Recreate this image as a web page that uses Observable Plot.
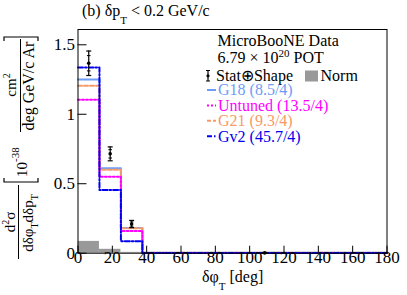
<!DOCTYPE html>
<html><head><meta charset="utf-8">
<script src="https://cdn.jsdelivr.net/npm/d3@7"></script>
<script src="https://cdn.jsdelivr.net/npm/@observablehq/plot@0.6"></script>
<style>body{margin:0;background:#fff}#c{width:407px;height:295px}</style>
</head><body><div id="c"></div>
<script>
// ---- data ----
const binEdges = [0, 12.5, 25, 37.5, 180];
const dataVals = [1.367, 0.715, 0.21, 0.002];
const dataErr = [0.088, 0.05, 0.026, 0.003];
const dataStatErr = [0.055, 0.03, 0.015, 0.002];
const normVals = [0.085, 0.028, 0.006, 0.0];
const g18Vals = [1.25, 0.612, 0.182, 0.003];
const untunedVals = [1.105, 0.55, 0.16, 0.002];
const g21Vals = [1.205, 0.60, 0.18, 0.003];
const gv2Vals = [1.336, 0.455, 0.086, 0.002];
const xTicks = [0, 20, 40, 60, 80, 100, 120, 140, 160, 180];
const yTicks = [0, 0.5, 1, 1.5];
const models = [
  {name: "G18 (8.5/4)", vals: g18Vals, color: "#6f9cf6", dash: null},
  {name: "G21 (9.3/4)", vals: g21Vals, color: "#f79a68", dash: "4,2"},
  {name: "Untuned (13.5/4)", vals: untunedVals, color: "#ff00ff", dash: "2,2"},
  {name: "Gv2 (45.7/4)", vals: gv2Vals, color: "#0000ee", dash: "5,2,1.5,2"}
];
const legendOrder = ["G18 (8.5/4)", "Untuned (13.5/4)", "G21 (9.3/4)", "Gv2 (45.7/4)"];

// ---- derived tables ----
const bins = dataVals.map((v, i) => ({
  x1: binEdges[i], x2: binEdges[i + 1], xc: (binEdges[i] + binEdges[i + 1]) / 2,
  v, lo: v - dataErr[i], hi: v + dataErr[i],
  slo: v - dataStatErr[i], shi: v + dataStatErr[i], norm: normVals[i]
}));
const stepRows = vals => binEdges.map((e, i) => ({x: e, y: vals[Math.min(i, vals.length - 1)]}));
const cap = {draw(ctx, size) { const r = Math.sqrt(size / Math.PI); ctx.moveTo(-r, 0); ctx.lineTo(r, 0); }};

const W = 407, H = 295, mL = 77.5, mR = 20.5, mT = 29, mB = 42.3;
const pw = W - mL - mR, ph = H - mT - mB;
const font = "Liberation Serif";

const chart = Plot.plot({
  width: W, height: H, marginLeft: mL, marginRight: mR, marginTop: mT, marginBottom: mB,
  style: {fontFamily: font, fontSize: "15px", color: "black", background: "white"},
  x: {domain: [0, 180], axis: null},
  y: {domain: [0, 1.61], axis: null},
  marks: [
    Plot.rectY(bins, {x1: "x1", x2: "x2", y: "norm", fill: "#999999"}),
    ...models.map(m => Plot.line(stepRows(m.vals), {x: "x", y: "y", curve: "step-after",
      stroke: m.color, strokeWidth: 2, strokeDasharray: m.dash})),
    Plot.ruleX(bins, {x: "xc", y1: "lo", y2: "hi", stroke: "black", strokeWidth: 1.2}),
    Plot.dot(bins, {x: "xc", y: "lo", symbol: cap, r: 2.5, stroke: "black", strokeWidth: 1.2}),
    Plot.dot(bins, {x: "xc", y: "hi", symbol: cap, r: 2.5, stroke: "black", strokeWidth: 1.2}),
    Plot.dot(bins, {x: "xc", y: "slo", symbol: cap, r: 1.8, stroke: "black", strokeWidth: 1}),
    Plot.dot(bins, {x: "xc", y: "shi", symbol: cap, r: 1.8, stroke: "black", strokeWidth: 1}),
    Plot.dot(bins, {x: "xc", y: "v", r: 1.8, fill: "black"}),
    Plot.tickX(xTicks, {x: d => d, insetTop: ph - 7, stroke: "black"}),
    Plot.tickY(yTicks, {y: d => d, insetRight: pw - 9, stroke: "black"}),
    Plot.text(xTicks, {x: d => d, frameAnchor: "bottom", dy: 10, text: d => String(d),
      fontSize: 17, fontFamily: font, fill: "black"}),
    Plot.text(yTicks, {y: d => d, frameAnchor: "left", dx: -3, textAnchor: "end", text: d => String(d),
      fontSize: 17, fontFamily: font, fill: "black"}),
    Plot.frame({stroke: "black", strokeWidth: 1})
  ]
});
document.getElementById("c").appendChild(chart);

const svg = d3.select(chart);

// title
const t = svg.append("text").attr("x", 82).attr("y", 16).attr("text-anchor", "start")
  .attr("font-size", 16).attr("fill", "black");
t.append("tspan").text("(b) δp");
t.append("tspan").attr("font-size", 11).attr("dy", 8).text("T");
t.append("tspan").attr("dy", -8).text(" < 0.2 GeV/c");

// x label
const xl = svg.append("text").attr("x", 202).attr("y", 281.5).attr("text-anchor", "start")
  .attr("font-size", 16).attr("fill", "black");
xl.append("tspan").text("δφ");
xl.append("tspan").attr("font-size", 11).attr("dy", 8).text("T");
xl.append("tspan").attr("dy", -8).text(" [deg]");

// y label (rotated)
const yl = svg.append("g").attr("transform", `translate(0,${H}) rotate(-90)`)
  .attr("font-size", 15).attr("fill", "black");
const n1 = yl.append("text").attr("x", 73).attr("y", 15).attr("text-anchor", "middle");
n1.append("tspan").text("d");
n1.append("tspan").attr("font-size", 10).attr("dy", -6).text("2");
n1.append("tspan").attr("dy", 6).text("σ");
yl.append("line").attr("x1", 36).attr("x2", 110).attr("y1", 18.5).attr("y2", 18.5).attr("stroke", "black");
const d1 = yl.append("text").attr("x", 72).attr("y", 32.5).attr("text-anchor", "middle");
d1.append("tspan").text("dδφ");
d1.append("tspan").attr("font-size", 10).attr("dy", 5).text("T");
d1.append("tspan").attr("dy", -5).text("dδp");
d1.append("tspan").attr("font-size", 10).attr("dy", 5).text("T");
yl.append("path").attr("d", "M117,4H113V38H117").attr("fill", "none").attr("stroke", "black").attr("stroke-width", 1.2);
const p10 = yl.append("text").attr("x", 118).attr("y", 27).attr("text-anchor", "start");
p10.append("tspan").text("10");
p10.append("tspan").attr("font-size", 11).attr("dy", -8).text("-38");
const n2 = yl.append("text").attr("x", 210).attr("y", 16).attr("text-anchor", "middle");
n2.append("tspan").text("cm");
n2.append("tspan").attr("font-size", 10).attr("dy", -6).text("2");
yl.append("line").attr("x1", 163).attr("x2", 256).attr("y1", 20.5).attr("y2", 20.5).attr("stroke", "black");
yl.append("text").attr("x", 209).attr("y", 34).attr("text-anchor", "middle").attr("font-size", 16).text("deg GeV/c Ar");
yl.append("path").attr("d", "M254,4H258V38H254").attr("fill", "none").attr("stroke", "black").attr("stroke-width", 1.2);

// legend
const lg = svg.append("g").attr("font-size", 16).attr("text-anchor", "start");
lg.append("text").attr("x", 217.5).attr("y", 45.5).text("MicroBooNE Data");
const pot = lg.append("text").attr("x", 217.5).attr("y", 63);
pot.append("tspan").text("6.79 × 10");
pot.append("tspan").attr("font-size", 11).attr("dy", -6).text("20");
pot.append("tspan").attr("dy", 6).text(" POT");
// stat marker
lg.append("line").attr("x1", 208).attr("x2", 208).attr("y1", 70.5).attr("y2", 81).attr("stroke", "black").attr("stroke-width", 1.2);
lg.append("path").attr("d", "M206,70.5H210M206,81H210").attr("stroke", "black").attr("stroke-width", 1.2);
lg.append("circle").attr("cx", 208).attr("cy", 75.8).attr("r", 1.6).attr("fill", "black");
lg.append("text").attr("x", 216).attr("y", 81).text("Stat⊕Shape");
lg.append("rect").attr("x", 305).attr("y", 70.5).attr("width", 13).attr("height", 11).attr("fill", "#999999");
lg.append("text").attr("x", 320.5).attr("y", 81).text("Norm");
legendOrder.forEach((name, i) => {
  const m = models.find(d => d.name === name);
  const yc = 90 + i * 15.4;
  lg.append("line").attr("x1", 207).attr("x2", 216).attr("y1", yc).attr("y2", yc)
    .attr("stroke", m.color).attr("stroke-width", 2).attr("stroke-dasharray", m.dash);
  lg.append("text").attr("x", 218).attr("y", yc + 5.3).attr("fill", m.color).text(name);
});

// force serif font on every text
svg.selectAll("text").style("font-family", "'Liberation Serif', serif");
</script>
</body></html>
